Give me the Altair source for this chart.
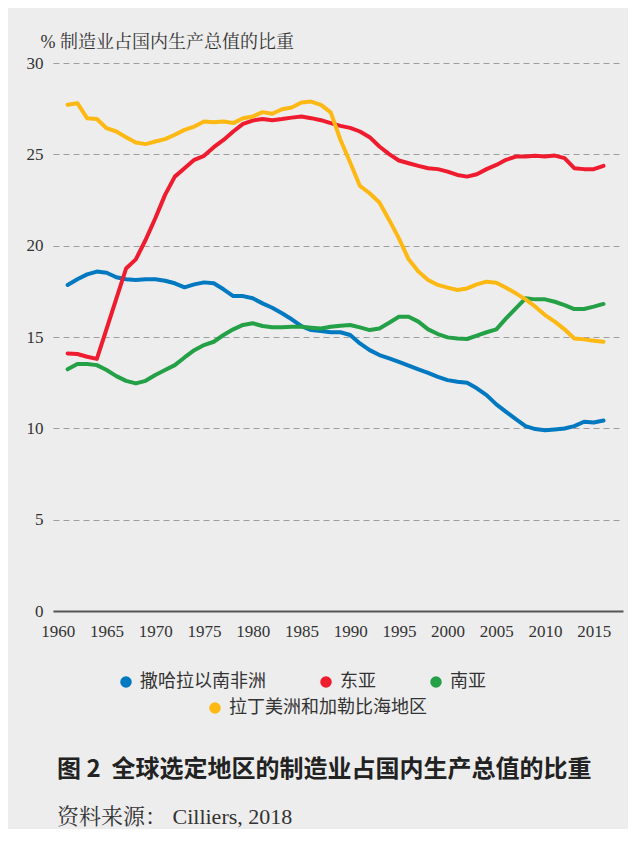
import altair as alt
import pandas as pd

years = list(range(1961, 2017))

ssa = [17.85, 18.16, 18.43, 18.58, 18.52, 18.27, 18.16, 18.12, 18.16, 18.16,
       18.08, 17.94, 17.72, 17.88, 17.99, 17.94, 17.61, 17.24, 17.24, 17.12,
       16.84, 16.6, 16.3, 15.97, 15.6, 15.38, 15.33, 15.26, 15.26, 15.11,
       14.65, 14.28, 14.01, 13.83, 13.64, 13.43, 13.23, 13.04, 12.82, 12.64,
       12.55, 12.49, 12.19, 11.82, 11.31, 10.9, 10.5, 10.12, 9.96, 9.9,
       9.94, 9.99, 10.12, 10.36, 10.32, 10.43]
east_asia = [14.1, 14.07, 13.92, 13.8, 15.45, 17.1, 18.75, 19.25, 20.31, 21.5,
             22.78, 23.78, 24.24, 24.7, 24.92, 25.39, 25.79, 26.25, 26.67, 26.85,
             26.93, 26.87, 26.93, 27.01, 27.07, 26.98, 26.87, 26.71, 26.56, 26.45,
             26.25, 25.94, 25.43, 25.01, 24.66, 24.51, 24.37, 24.24, 24.19, 24.05,
             23.87, 23.78, 23.91, 24.19, 24.42, 24.7, 24.88, 24.88, 24.92, 24.88,
             24.93, 24.79, 24.24, 24.19, 24.19, 24.37]
south_asia = [13.23, 13.52, 13.52, 13.46, 13.19, 12.86, 12.6, 12.46, 12.6, 12.92,
              13.19, 13.46, 13.88, 14.28, 14.56, 14.74, 15.11, 15.42, 15.66, 15.75,
              15.6, 15.53, 15.53, 15.56, 15.56, 15.51, 15.47, 15.56, 15.62, 15.66,
              15.53, 15.38, 15.47, 15.78, 16.11, 16.11, 15.84, 15.42, 15.16, 14.98,
              14.92, 14.89, 15.07, 15.26, 15.42, 16.02, 16.57, 17.12, 17.06, 17.06,
              16.93, 16.75, 16.53, 16.53, 16.66, 16.81]
latam = [27.71, 27.8, 26.98, 26.93, 26.43, 26.25, 25.94, 25.65, 25.56, 25.7,
         25.83, 26.07, 26.34, 26.52, 26.8, 26.76, 26.8, 26.71, 26.98, 27.07,
         27.31, 27.22, 27.47, 27.56, 27.84, 27.89, 27.71, 27.3, 25.8, 24.55,
         23.27, 22.87, 22.36, 21.41, 20.4, 19.25, 18.58, 18.12, 17.85, 17.7,
         17.57, 17.66, 17.88, 18.03, 17.97, 17.7, 17.39, 17.06, 16.66, 16.2,
         15.84, 15.42, 14.92, 14.87, 14.8, 14.74]

names1 = ["撒哈拉以南非洲", "东亚", "南亚"]
colors1 = ["#0079C1", "#EE1C2E", "#24A047"]
name2 = "拉丁美洲和加勒比海地区"
color2 = "#FDB813"

y_title = "% 制造业占国内生产总值的比重"
caption = "图\u00a02\u00a0\u00a0全球选定地区的制造业占国内生产总值的比重"
source = "资料来源：\u00a0Cilliers, 2018"

rows = []
for name, vals in zip(names1, [ssa, east_asia, south_asia]):
    for yr, v in zip(years, vals):
        rows.append({"year": yr, "value": v, "region": name})
df1 = pd.DataFrame(rows)
df2 = pd.DataFrame({"year": years, "value": latam, "region": name2})

SERIF = "'Liberation Serif', 'Noto Serif CJK SC', 'Noto Sans CJK SC', serif"
CJK = "'Noto Sans CJK SC', sans-serif"

x_enc = alt.X("year:Q", scale=alt.Scale(domain=[1959.5, 2018], nice=False, zero=False),
              axis=alt.Axis(values=list(range(1960, 2016, 5)), format="d", title=None,
                            grid=False, ticks=False, domain=True, domainColor="#555555",
                            domainWidth=2, labelFont=SERIF, labelFontSize=17,
                            labelColor="#333333", labelPadding=12, labelFlush=False))
y_enc = alt.Y("value:Q", scale=alt.Scale(domain=[0, 30], nice=False),
              axis=alt.Axis(values=[0, 5, 10, 15, 20, 25, 30], title=y_title,
                            titleAngle=0, titleAlign="left", titleBaseline="middle",
                            titleX=-13, titleY=-21, titleFont=SERIF, titleFontSize=18,
                            titleFontWeight="normal", titleColor="#333333",
                            grid=True, gridDash=[6, 4], gridColor="#9E9E9E", gridWidth=1,
                            domain=False, ticks=False, labelFont=SERIF, labelFontSize=17,
                            labelColor="#333333", labelPadding=10))

legend_common = dict(title=None, orient="none", direction="horizontal", padding=0,
                     symbolType="circle", symbolSize=36, symbolStrokeWidth=5.5,
                     labelOffset=5, labelFont=CJK, labelFontSize=18,
                     labelColor="#333333", labelLimit=400)

lines1 = alt.Chart(df1).mark_line(strokeWidth=4, strokeCap="round", strokeJoin="round").encode(
    x=x_enc, y=y_enc,
    color=alt.Color("region:N", scale=alt.Scale(domain=names1, range=colors1),
                    legend=alt.Legend(legendX=64, legendY=610, columnPadding=46,
                                      **legend_common)),
    detail="region:N",
)

lines2 = alt.Chart(df2).mark_line(strokeWidth=4, strokeCap="round", strokeJoin="round").encode(
    x=x_enc, y=y_enc,
    color=alt.Color("region:N", scale=alt.Scale(domain=[name2], range=[color2]),
                    legend=alt.Legend(legendX=153, legendY=636, **legend_common)),
)

cap = alt.Chart(pd.DataFrame({"t": [caption]})).mark_text(
    align="left", baseline="middle", font=CJK, fontSize=24, fontWeight="bold",
    color="#222222").encode(x=alt.value(4), y=alt.value(707), text="t:N")

src = alt.Chart(pd.DataFrame({"t": [source]})).mark_text(
    align="left", baseline="middle", font=SERIF, fontSize=22,
    color="#333333").encode(x=alt.value(4), y=alt.value(754), text="t:N")

chart = alt.layer(lines1, lines2, cap, src).resolve_scale(color="independent").properties(
    width=570, height=548,
    autosize=alt.AutoSizeParams(type="none"),
    padding={"left": 45, "top": 55, "right": 5, "bottom": 218},
    background="#EDEDED",
).configure_view(stroke=None)

chart.save("out.html", embed_options={"renderer": "svg", "actions": False})
